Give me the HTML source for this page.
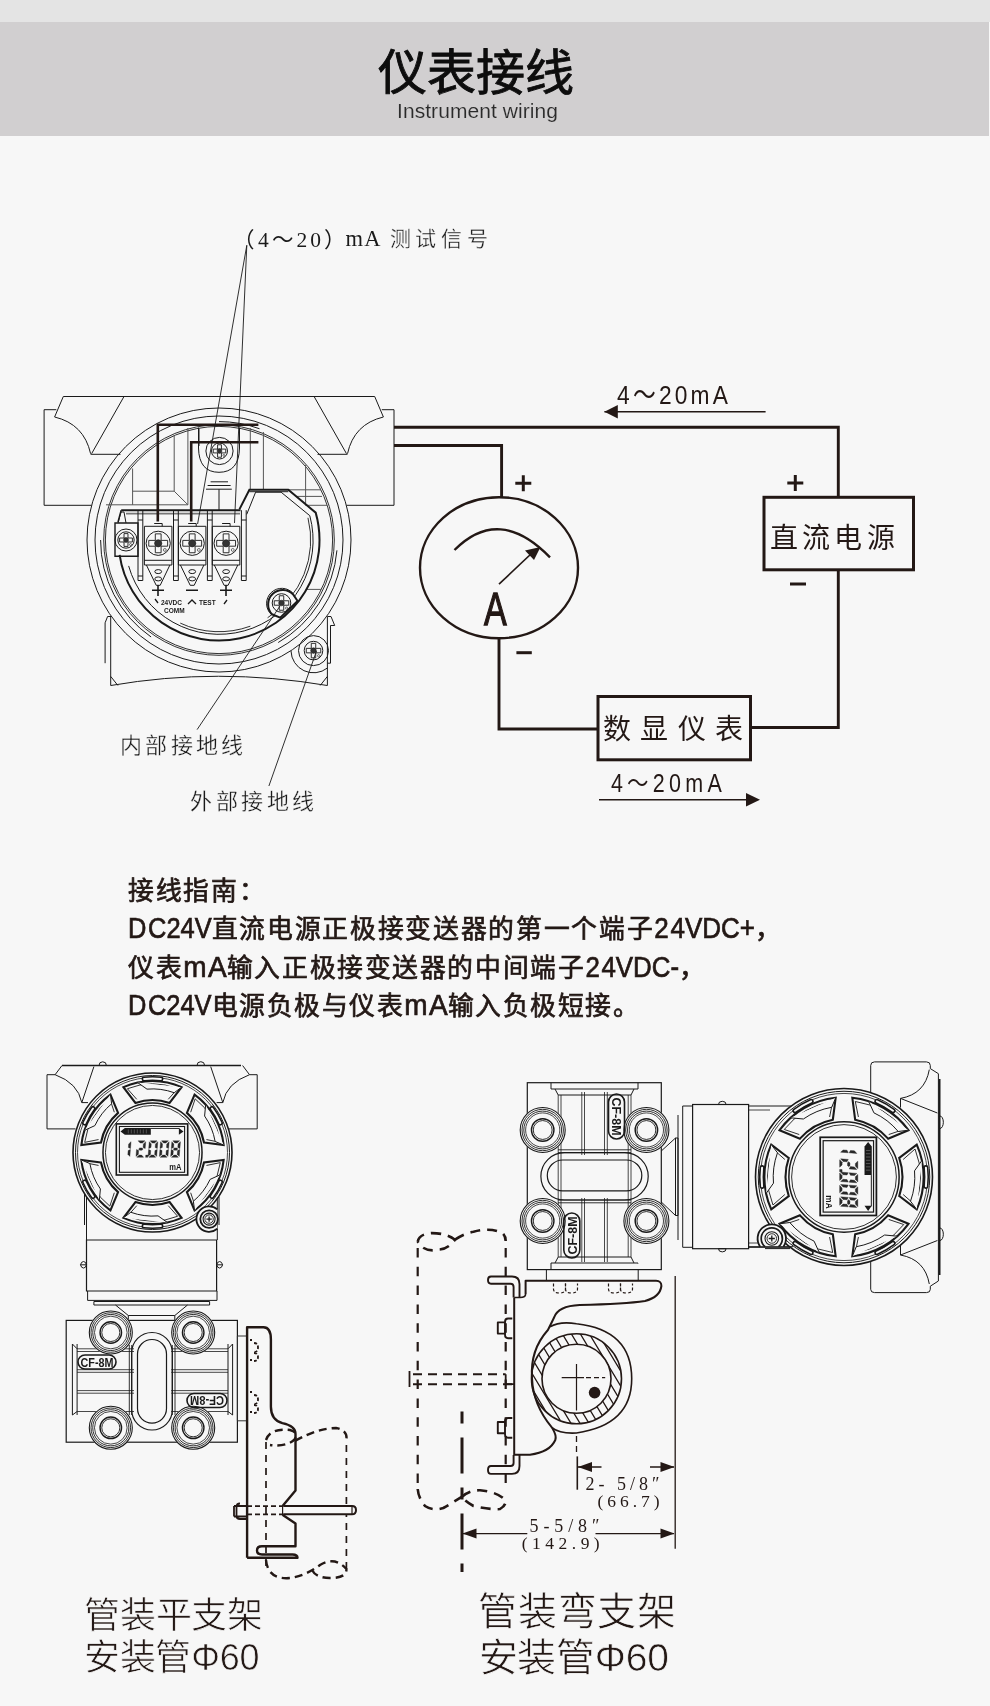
<!DOCTYPE html>
<html lang="zh-CN"><head><meta charset="utf-8">
<style>
html,body{margin:0;padding:0;}
body{width:990px;height:1706px;background:#f7f7f7;position:relative;overflow:hidden;font-family:"Liberation Sans",sans-serif;color:#231815;}
#top{position:absolute;left:0;top:0;width:990px;height:22px;background:#e4e4e4;}
#band{position:absolute;left:0;top:22px;width:989px;height:114px;background:#d1cfd0;}
.t{position:absolute;white-space:nowrap;}
#title{left:378px;top:41px;font-size:49px;color:#0d0d0d;line-height:60px;-webkit-text-stroke:0.8px #0d0d0d;}
#sub{left:398px;top:96px;font-size:21px;color:#3a3a3a;line-height:24px;}
#guide{left:128px;top:870px;font-size:26px;font-weight:bold;color:#222;line-height:38.5px;}
.cap{font-weight:300;color:#231815;}
svg{position:absolute;left:0;top:0;will-change:transform;}
</style></head><body>
<div id="top"></div><div id="band"></div>
<svg width="990" height="1706" viewBox="0 0 990 1706">
<g fill="none" stroke="#1a1a1a" stroke-width="1">
<path d="M63.3 396.5H374.7"/>
<path d="M63.3 396.5L54.6 417Q84 424 90.6 453.7M124 396.5L91.6 453.7M90.6 454.3H120.5"/>
<path d="M56.3 409.7H44.1V505.3H91.5"/>
<path d="M374.7 396.5L383.4 417Q354 424 347.5 453.7M314.1 396.5L346.5 453.7M347.5 454.3H317.5"/>
<path d="M381.8 409.7H394V505.3H346.5"/>
<circle cx="219" cy="540" r="132"/>
<circle cx="219" cy="540" r="124"/>
<circle cx="219" cy="540" r="115.3" stroke-width="0.9"/>
<circle cx="219" cy="540" r="113.6" stroke-width="0.9"/>
<path d="M100.60 540.00A118.4 118.4 0 0 0 151.09 636.99"/>
<path d="M219.00 421.60A118.4 118.4 0 0 1 259.50 428.74"/>
<path d="M336.95 550.32A118.4 118.4 0 0 1 278.20 642.54"/>
<path d="M105.1 663.2V622.8L107.6 616.5H111.4M110.7 616.5V685.5Q218 667 327.4 685.5V616.5M327.4 616.5H331L334.7 625.5H330.5V663.2H327.4"/>
<path d="M110.7 676.4L117.9 685.5M327.4 676.4L320.2 685.5"/>
<g stroke="#555" stroke-width="1">
<path d="M132.6 468.5V504.8M132.6 491.2H174.2V435M174.2 491.2L187.9 504.8M187.9 428V504.8M199.2 428V446M250.3 428V490M263.4 432V490"/>
<path d="M106 504.8H187.9M289 489.8H321M297 496.4H322M305.6 465V505.3H327M306.7 589.4H321"/>
</g>
</g>
<g fill="none" stroke="#1a1a1a" stroke-width="1">
<path d="M198.5 427.6V448Q199 472.3 219 472.3Q239 472.3 239.5 448V427.6"/>
<circle cx="219.5" cy="451" r="13.6"/>
<circle cx="219.5" cy="451" r="8"/><path d="M217.58 444.76H221.42V449.08H225.74V452.92H221.42V457.24H217.58V452.92H213.26V449.08H217.58Z" stroke-width="0.9"/><circle cx="219.5" cy="451" r="2.40" fill="#333" stroke-width="0.6"/><circle cx="223.90" cy="455.40" r="0.96" stroke-width="0.6"/>
<path d="M210.6 481.8H228M207.6 485.5H230.6M206 489.2H231.8M219 489.2V510"/>
</g>
<g fill="none" stroke="#1a1a1a" stroke-width="1">
<path d="M121.2 510.2H240.5" stroke-width="2"/>
<path d="M126 513.6H240" stroke-width="1.6" stroke="#777"/>
<path d="M121.2 510.2L118 522" stroke-width="1.5"/>
<path d="M144.4 526.3H171.9V565H144.4Z"/>
<path d="M144.4 560.3H171.9"/>
<path d="M146.4 565L156.20000000000002 585.3H160.20000000000002L169.9 565"/>
<ellipse cx="158.20000000000002" cy="571.6" rx="3.4" ry="2"/><ellipse cx="158.20000000000002" cy="578.9" rx="3.4" ry="2"/>
<path d="M154.20000000000002 523.5H162.20000000000002V526.3"/>
<circle cx="158.20000000000002" cy="543.3" r="12.1"/><path d="M155.30 533.86H161.10V540.40H167.64V546.20H161.10V552.74H155.30V546.20H148.76V540.40H155.30Z" stroke-width="0.9"/><circle cx="158.20000000000002" cy="543.3" r="3.63" fill="#333" stroke-width="0.6"/><circle cx="164.86" cy="549.95" r="1.45" stroke-width="0.6"/>
<path d="M178.4 526.3H205.9V565H178.4Z"/>
<path d="M178.4 560.3H205.9"/>
<path d="M180.4 565L190.20000000000002 585.3H194.20000000000002L203.9 565"/>
<ellipse cx="192.20000000000002" cy="571.6" rx="3.4" ry="2"/><ellipse cx="192.20000000000002" cy="578.9" rx="3.4" ry="2"/>
<path d="M188.20000000000002 523.5H196.20000000000002V526.3"/>
<circle cx="192.20000000000002" cy="543.3" r="12.1"/><path d="M189.30 533.86H195.10V540.40H201.64V546.20H195.10V552.74H189.30V546.20H182.76V540.40H189.30Z" stroke-width="0.9"/><circle cx="192.20000000000002" cy="543.3" r="3.63" fill="#333" stroke-width="0.6"/><circle cx="198.86" cy="549.95" r="1.45" stroke-width="0.6"/>
<path d="M212.3 526.3H239.8V565H212.3Z"/>
<path d="M212.3 560.3H239.8"/>
<path d="M214.3 565L224.10000000000002 585.3H228.10000000000002L237.8 565"/>
<ellipse cx="226.10000000000002" cy="571.6" rx="3.4" ry="2"/><ellipse cx="226.10000000000002" cy="578.9" rx="3.4" ry="2"/>
<path d="M222.10000000000002 523.5H230.10000000000002V526.3"/>
<circle cx="226.10000000000002" cy="543.3" r="12.1"/><path d="M223.20 533.86H229.00V540.40H235.54V546.20H229.00V552.74H223.20V546.20H216.66V540.40H223.20Z" stroke-width="0.9"/><circle cx="226.10000000000002" cy="543.3" r="3.63" fill="#333" stroke-width="0.6"/><circle cx="232.76" cy="549.95" r="1.45" stroke-width="0.6"/>
<path d="M138 510.2V580.5H142.8V510.2M138 520H142.8M138 576H142.8" stroke-width="1"/>
<path d="M173.5 510.2V580.5H178.3V510.2M173.5 520H178.3M173.5 576H178.3" stroke-width="1"/>
<path d="M207.4 510.2V580.5H212.20000000000002V510.2M207.4 520H212.20000000000002M207.4 576H212.20000000000002" stroke-width="1"/>
<path d="M241.4 510.2V580.5H246.20000000000002V510.2M241.4 520H246.20000000000002M241.4 576H246.20000000000002" stroke-width="1"/>
<path d="M152 590.2H164M158 585V596M186 590.2H198M220 590.2H232M226 585V596" stroke-width="1.6"/>
</g>
<text x="161" y="605" font-size="6.5" font-weight="bold" font-family="Liberation Sans" fill="#1a1a1a">24VDC</text>
<text x="164" y="612.5" font-size="6.5" font-weight="bold" font-family="Liberation Sans" fill="#1a1a1a">COMM</text>
<text x="199" y="605" font-size="6.5" font-weight="bold" font-family="Liberation Sans" fill="#1a1a1a">TEST</text>
<path d="M155 599L158 603M188 604L192 600L196 604M224 604L227 600" fill="none" stroke="#1a1a1a" stroke-width="1.3"/>
<g fill="none" stroke="#1a1a1a" stroke-width="1">
<path d="M115 523H138V556.2H115Z" stroke-width="1.4"/>
<path d="M118 523L121 512H124L126 523" stroke-width="1"/>
<circle cx="126" cy="540" r="11"/>
<circle cx="126" cy="540" r="8.2"/><path d="M124.03 533.60H127.97V538.03H132.40V541.97H127.97V546.40H124.03V541.97H119.60V538.03H124.03Z" stroke-width="0.9"/><circle cx="126" cy="540" r="2.46" fill="#333" stroke-width="0.6"/><circle cx="130.51" cy="544.51" r="0.98" stroke-width="0.6"/>
</g>
<g fill="none" stroke="#1a1a1a">
<path d="M119.60 554.85A100.5 100.5 0 1 0 315.70 512.64L288.3 489.8H249.4L239.4 509.4" stroke-width="2"/>
<path d="M249.4 491.7H288.3" stroke-width="1"/>
<path d="M128.64 565.91A94 94 0 0 0 309.80 515.67L281.1 492.2H255.6L246.7 514.4" stroke-width="1"/>
<path d="M180.25 623.11A91.7 91.7 0 0 0 250.36 626.17" stroke-width="0.9"/>
<path d="M267.59 617.77A91.7 91.7 0 0 0 307.98 517.82" stroke-width="0.9"/>
</g>
<g fill="none" stroke="#1a1a1a" stroke-width="1">
<path d="M272 614.3A12.2 12.2 0 1 1 293.3 594.6L297.6 601L280.2 617.6Z" stroke-width="2" fill="#f7f7f7"/>
<path d="M271.6 614.8A15.2 15.2 0 1 1 293.3 593.6" stroke-width="1"/>
<circle cx="281.5" cy="603" r="9.3"/><path d="M279.27 595.75H283.73V600.77H288.75V605.23H283.73V610.25H279.27V605.23H274.25V600.77H279.27Z" stroke-width="0.9"/><circle cx="281.5" cy="603" r="2.79" fill="#333" stroke-width="0.6"/><circle cx="286.62" cy="608.12" r="1.12" stroke-width="0.6"/>
</g>
<g fill="none" stroke="#1a1a1a" stroke-width="1">
<circle cx="313.5" cy="650.6" r="15"/>
<path d="M291 651A22.5 22.5 0 0 0 327.4 668"/>
<circle cx="313.5" cy="650.6" r="9.3"/><path d="M311.27 643.35H315.73V648.37H320.75V652.83H315.73V657.85H311.27V652.83H306.25V648.37H311.27Z" stroke-width="0.9"/><circle cx="313.5" cy="650.6" r="2.79" fill="#333" stroke-width="0.6"/><circle cx="318.62" cy="655.72" r="1.12" stroke-width="0.6"/>
</g>
<g fill="none" stroke="#231815" stroke-width="2.6">
<path d="M157.8 521.6V424.8H258.4"/>
<path d="M191.2 521.6V442.3H258.4"/>
</g>
<g fill="none" stroke="#1a1a1a" stroke-width="0.9">
<path d="M246.8 245.3L197.6 524M246.8 245.3L234.5 523"/>
<path d="M197.1 729.6L280 606M268.9 786L316.5 651"/>
</g>
<g fill="none" stroke="#231815" stroke-width="2.9">
<path d="M394 427.3H838.3V497.3"/>
<path d="M394 445.5H501.6V497.3"/>
<ellipse cx="499" cy="567.7" rx="79" ry="70.5" stroke-width="2.4"/>
<path d="M499 638V729H598"/>
<path d="M751 727.5H838.3V570"/>
<rect x="764" y="497.3" width="149.5" height="72.5" stroke-width="3"/>
<rect x="598" y="696.5" width="152.5" height="63.3" stroke-width="3"/>
<path d="M454.5 550Q499 505 550 557.3" stroke-width="2.4"/>
<path d="M499 584.2L532 553" stroke-width="1.6"/>
<path d="M604.4 411.8H765.6M599 799.8H750" stroke-width="1.6"/>
</g>
<g fill="#231815" stroke="none">
<path d="M540.5 547L525 550.5L534 560Z"/>
<path d="M604.4 411.8L617.8 405.1V418.5Z"/>
<path d="M760 799.8L746 793V806.6Z"/>
<path d="M515.3 481.8H531.3V484.8H515.3ZM521.8 475.3H524.8V491.3H521.8Z"/>
<path d="M787.3 481.5H803.3V484.5H787.3ZM793.8 475H796.8V491H793.8Z"/>
<path d="M516.4 651.2H531.8V654.2H516.4Z"/>
<path d="M790 582.5H806V585.5H790Z"/>
</g>
<text id="title" x="377.5" y="89.5" font-family="Liberation Sans" font-size="49.5" textLength="196.5" lengthAdjust="spacing" fill="#0d0d0d" stroke="#0d0d0d" stroke-width="0.9">仪表接线</text>
<text id="sub" x="397" y="118" font-family="Liberation Sans" font-size="20.3" textLength="161" lengthAdjust="spacing" fill="#2a2a2a" stroke="#d1cfd0" stroke-width="0.15">Instrument wiring</text>
<text id="sig" x="233" y="246.5" font-family="Liberation Serif" font-size="21.5" textLength="113" lengthAdjust="spacing" fill="#1a1a1a">（4～20）</text>
<text id="sig3" x="345.5" y="246" font-family="Liberation Serif" font-size="22.5" textLength="35" lengthAdjust="spacing" fill="#1a1a1a">mA</text>
<text id="sig2" x="389.5" y="246" font-family="Liberation Serif" font-size="21" textLength="98.5" lengthAdjust="spacing" fill="#1a1a1a" stroke="#f7f7f7" stroke-width="0.3">测试信号</text>
<text id="ma1" x="617" y="404" font-family="Liberation Sans" font-size="26.5" textLength="129" lengthAdjust="spacing" fill="#231815" transform="translate(617 0) scale(0.86 1) translate(-617 0)">4～20mA</text>
<text id="dcps" x="769.5" y="547.5" font-family="Liberation Sans" font-size="28" textLength="125" lengthAdjust="spacing" fill="#231815">直流电源</text>
<text id="amm" x="484" y="625" font-family="Liberation Sans" font-size="46" fill="#231815" stroke="#231815" stroke-width="1.3" transform="translate(484 625) scale(0.74 1) translate(-484 -625)">A</text>
<text id="disp" x="603" y="738.5" font-family="Liberation Sans" font-size="28" textLength="140" lengthAdjust="spacing" fill="#231815">数显仪表</text>
<text id="ma2" x="611" y="792.5" font-family="Liberation Sans" font-size="25" textLength="129" lengthAdjust="spacing" fill="#231815" transform="translate(611 0) scale(0.86 1) translate(-611 0)">4～20mA</text>
<text id="inner" x="120.2" y="752.5" font-family="Liberation Serif" font-size="22" textLength="123" lengthAdjust="spacing" fill="#1a1a1a" stroke="#f7f7f7" stroke-width="0.3">内部接地线</text>
<text id="outer" x="190" y="808.7" font-family="Liberation Serif" font-size="22" textLength="124" lengthAdjust="spacing" fill="#1a1a1a" stroke="#f7f7f7" stroke-width="0.3">外部接地线</text>
<text id="g1" x="128" y="899.5" font-family="Liberation Sans" font-size="25.8" textLength="136.5" lengthAdjust="spacing" fill="#231815" stroke="#231815" stroke-width="0.7">接线指南：</text>
<text id="g2" x="128" y="938" font-family="Liberation Sans" font-size="25.8" textLength="653" lengthAdjust="spacing" fill="#231815" stroke="#231815" stroke-width="0.7"><tspan font-size="29" textLength="82" lengthAdjust="spacingAndGlyphs">DC24V</tspan>直流电源正极接变送器的第一个端子<tspan font-size="29" textLength="99" lengthAdjust="spacingAndGlyphs">24VDC+</tspan>，</text>
<text id="g3" x="128" y="976.5" font-family="Liberation Sans" font-size="25.8" textLength="577" lengthAdjust="spacing" fill="#231815" stroke="#231815" stroke-width="0.7">仪表<tspan font-size="29" textLength="42" lengthAdjust="spacingAndGlyphs">mA</tspan>输入正极接变送器的中间端子<tspan font-size="29" textLength="92" lengthAdjust="spacingAndGlyphs">24VDC-</tspan>，</text>
<text id="g4" x="128" y="1015" font-family="Liberation Sans" font-size="25.8" textLength="510.8" lengthAdjust="spacing" fill="#231815" stroke="#231815" stroke-width="0.7"><tspan font-size="29" textLength="82" lengthAdjust="spacingAndGlyphs">DC24V</tspan>电源负极与仪表<tspan font-size="29" textLength="42" lengthAdjust="spacingAndGlyphs">mA</tspan>输入负极短接。</text>
<text id="c1" x="84" y="1627.5" font-family="Liberation Sans" font-size="36" textLength="179.3" lengthAdjust="spacing" fill="#231815" stroke="#f7f7f7" stroke-width="0.7">管装平支架</text>
<text id="c2" x="84" y="1670" font-family="Liberation Sans" font-size="36" textLength="175.5" lengthAdjust="spacing" fill="#231815" stroke="#f7f7f7" stroke-width="0.7">安装管Φ60</text>
<text id="c3" x="478.3" y="1625" font-family="Liberation Sans" font-size="39" textLength="197.6" lengthAdjust="spacing" fill="#231815" stroke="#f7f7f7" stroke-width="0.7">管装弯支架</text>
<text id="c4" x="478.5" y="1671" font-family="Liberation Sans" font-size="39" textLength="190.4" lengthAdjust="spacing" fill="#231815" stroke="#f7f7f7" stroke-width="0.7">安装管Φ60</text>
<g fill="none" stroke="#1a1a1a" stroke-width="1">
<path d="M62 1065.5H241" stroke-width="1.6"/>
<path d="M99 1065.5A3.7 3.7 0 0 1 106.4 1065.5M197 1065.5A3.7 3.7 0 0 1 204.6 1065.5"/>
<path d="M62 1065.5L55.1 1074.7H47V1128.9H75.5M55.1 1074.7Q78 1083 81.8 1102.6H88M93.9 1066.6L81.8 1102.6"/>
<path d="M242.6 1065.5L249.5 1074.7H257.2V1128.9H229M249.5 1074.7Q226.6 1083 222.8 1102.6H216.6M210.7 1066.6L222.8 1102.6"/>
<path d="M84.5 1192V1225M86.5 1195V1240M217.3 1196V1240M219 1197V1225"/>
</g>
<g fill="#f7f7f7" stroke="#1a1a1a" stroke-width="1">
<circle cx="152.5" cy="1152.5" r="79.5" stroke-width="1.6"/><circle cx="152.5" cy="1152.5" r="77.00" stroke-width="1"/><circle cx="152.5" cy="1152.5" r="75.00" stroke-width="0.8"/><circle cx="152.5" cy="1152.5" r="49.53" stroke-width="1.5"/><circle cx="152.5" cy="1152.5" r="47.06" stroke-width="0.9"/><path d="M169.58 1102.89L181.60 1087.14A71.55 71.55 0 0 0 123.40 1087.14L135.42 1102.89A52.470000000000006 52.470000000000006 0 0 1 169.58 1102.89Z" stroke-width="2.1"/><path d="M168.25 1099.31L177.62 1088.72A68.55 68.55 0 0 0 127.38 1088.72L136.75 1099.31" fill="none" stroke-width="0.9"/><path d="M181.60 1087.14L174.25 1092.74A63.6 63.6 0 0 0 146.96 1089.14L137.62 1082.51" stroke-width="1"/><path d="M160.88 1078.98A74.00 74.00 0 0 0 144.12 1078.98" stroke-width="5.2" stroke-linecap="round"/><path d="M160.88 1078.98A74.00 74.00 0 0 0 144.12 1078.98" stroke="#f7f7f7" stroke-width="2" stroke-linecap="round"/><path d="M118.08 1112.90L110.44 1094.61A71.55 71.55 0 0 0 81.34 1145.02L100.99 1142.49A52.470000000000006 52.470000000000006 0 0 1 118.08 1112.90Z" stroke-width="2.1"/><path d="M114.32 1112.26L109.83 1098.85A68.55 68.55 0 0 0 84.70 1142.37L98.56 1139.55" fill="none" stroke-width="0.9"/><path d="M110.44 1094.61L111.62 1103.78A63.6 63.6 0 0 0 94.86 1125.62L84.45 1130.39" stroke-width="1"/><path d="M93.01 1108.48A74.00 74.00 0 0 0 84.64 1122.99" stroke-width="5.2" stroke-linecap="round"/><path d="M93.01 1108.48A74.00 74.00 0 0 0 84.64 1122.99" stroke="#f7f7f7" stroke-width="2" stroke-linecap="round"/><path d="M100.99 1162.51L81.34 1159.98A71.55 71.55 0 0 0 110.44 1210.39L118.08 1192.10A52.470000000000006 52.470000000000006 0 0 1 100.99 1162.51Z" stroke-width="2.1"/><path d="M98.56 1165.45L84.70 1162.63A68.55 68.55 0 0 0 109.83 1206.15L114.32 1192.74" fill="none" stroke-width="0.9"/><path d="M81.34 1159.98L89.87 1163.54A63.6 63.6 0 0 0 100.40 1188.98L99.33 1200.38" stroke-width="1"/><path d="M84.64 1182.01A74.00 74.00 0 0 0 93.01 1196.52" stroke-width="5.2" stroke-linecap="round"/><path d="M84.64 1182.01A74.00 74.00 0 0 0 93.01 1196.52" stroke="#f7f7f7" stroke-width="2" stroke-linecap="round"/><path d="M135.42 1202.11L123.40 1217.86A71.55 71.55 0 0 0 181.60 1217.86L169.58 1202.11A52.470000000000006 52.470000000000006 0 0 1 135.42 1202.11Z" stroke-width="2.1"/><path d="M136.75 1205.69L127.38 1216.28A68.55 68.55 0 0 0 177.62 1216.28L168.25 1205.69" fill="none" stroke-width="0.9"/><path d="M123.40 1217.86L130.75 1212.26A63.6 63.6 0 0 0 158.04 1215.86L167.38 1222.49" stroke-width="1"/><path d="M144.12 1226.02A74.00 74.00 0 0 0 160.88 1226.02" stroke-width="5.2" stroke-linecap="round"/><path d="M144.12 1226.02A74.00 74.00 0 0 0 160.88 1226.02" stroke="#f7f7f7" stroke-width="2" stroke-linecap="round"/><path d="M186.92 1192.10L194.56 1210.39A71.55 71.55 0 0 0 223.66 1159.98L204.01 1162.51A52.470000000000006 52.470000000000006 0 0 1 186.92 1192.10Z" stroke-width="2.1"/><path d="M190.68 1192.74L195.17 1206.15A68.55 68.55 0 0 0 220.30 1162.63L206.44 1165.45" fill="none" stroke-width="0.9"/><path d="M194.56 1210.39L193.38 1201.22A63.6 63.6 0 0 0 210.14 1179.38L220.55 1174.61" stroke-width="1"/><path d="M211.99 1196.52A74.00 74.00 0 0 0 220.36 1182.01" stroke-width="5.2" stroke-linecap="round"/><path d="M211.99 1196.52A74.00 74.00 0 0 0 220.36 1182.01" stroke="#f7f7f7" stroke-width="2" stroke-linecap="round"/><path d="M204.01 1142.49L223.66 1145.02A71.55 71.55 0 0 0 194.56 1094.61L186.92 1112.90A52.470000000000006 52.470000000000006 0 0 1 204.01 1142.49Z" stroke-width="2.1"/><path d="M206.44 1139.55L220.30 1142.37A68.55 68.55 0 0 0 195.17 1098.85L190.68 1112.26" fill="none" stroke-width="0.9"/><path d="M223.66 1145.02L215.13 1141.46A63.6 63.6 0 0 0 204.60 1116.02L205.67 1104.62" stroke-width="1"/><path d="M220.36 1122.99A74.00 74.00 0 0 0 211.99 1108.48" stroke-width="5.2" stroke-linecap="round"/><path d="M220.36 1122.99A74.00 74.00 0 0 0 211.99 1108.48" stroke="#f7f7f7" stroke-width="2" stroke-linecap="round"/>
</g>
<g transform="translate(116.3 1123.9)"><rect x="0" y="0" width="71.4" height="51.1" fill="#f7f7f7" stroke="#1a1a1a" stroke-width="1.6"/><rect x="3.1" y="2.6" width="65.2" height="45.8" fill="none" stroke="#1a1a1a" stroke-width="1.1"/><path d="M4.2 7.5L8.5 4.2H34.5V10.8H8.5Z" fill="#1a1a1a"/><path d="M34.5 4.6H63" stroke="#1a1a1a" stroke-width="0.9" fill="none"/><path d="M62.6 4.2L67.2 7.5L62.6 10.8Z" fill="#1a1a1a"/><path d="M12 5.5V9.5M15 5.5V9.5M18 5.5V9.5M21 5.5V9.5M24 5.5V9.5M27 5.5V9.5M30 5.5V9.5" stroke="#777" stroke-width="0.6"/><g fill="#2a2a2a" stroke="#1a1a1a" stroke-width="0.35" stroke-linejoin="miter"><path d="M14.75 17.80L12.37 20.00L12.08 23.60L14.20 24.70Z"/><path d="M14.12 25.60L11.84 26.70L11.55 30.30L13.57 32.50Z"/><path d="M21.82 16.90L28.62 16.90L26.24 19.10L23.84 19.10Z"/><path d="M29.45 17.80L27.07 20.00L26.78 23.60L28.90 24.70Z"/><path d="M22.26 25.15L23.45 24.05L25.85 24.05L26.86 25.15L25.67 26.25L23.27 26.25Z"/><path d="M20.22 25.60L22.34 26.70L22.05 30.30L19.67 32.50Z"/><path d="M22.88 31.20L25.28 31.20L27.30 33.40L20.50 33.40Z"/><path d="M29.48 31.20L31.68 31.20L31.50 33.40L29.30 33.40Z"/><path d="M33.92 16.90L40.72 16.90L38.34 19.10L35.94 19.10Z"/><path d="M41.55 17.80L39.17 20.00L38.88 23.60L41.00 24.70Z"/><path d="M40.92 25.60L38.64 26.70L38.35 30.30L40.37 32.50Z"/><path d="M34.98 31.20L37.38 31.20L39.40 33.40L32.60 33.40Z"/><path d="M32.32 25.60L34.44 26.70L34.15 30.30L31.77 32.50Z"/><path d="M32.95 17.80L34.97 20.00L34.68 23.60L32.40 24.70Z"/><path d="M45.22 16.90L52.02 16.90L49.64 19.10L47.24 19.10Z"/><path d="M52.85 17.80L50.47 20.00L50.18 23.60L52.30 24.70Z"/><path d="M52.22 25.60L49.94 26.70L49.65 30.30L51.67 32.50Z"/><path d="M46.28 31.20L48.68 31.20L50.70 33.40L43.90 33.40Z"/><path d="M43.62 25.60L45.74 26.70L45.45 30.30L43.07 32.50Z"/><path d="M44.25 17.80L46.27 20.00L45.98 23.60L43.70 24.70Z"/><path d="M56.52 16.90L63.32 16.90L60.94 19.10L58.54 19.10Z"/><path d="M64.15 17.80L61.77 20.00L61.48 23.60L63.60 24.70Z"/><path d="M63.52 25.60L61.24 26.70L60.95 30.30L62.97 32.50Z"/><path d="M57.58 31.20L59.98 31.20L62.00 33.40L55.20 33.40Z"/><path d="M54.92 25.60L57.04 26.70L56.75 30.30L54.37 32.50Z"/><path d="M55.55 17.80L57.57 20.00L57.28 23.60L55.00 24.70Z"/><path d="M56.96 25.15L58.15 24.05L60.55 24.05L61.56 25.15L60.37 26.25L57.97 26.25Z"/></g><text x="53" y="46.1" font-family="Liberation Sans" font-size="9" font-weight="bold" fill="#1a1a1a" textLength="12.2" lengthAdjust="spacingAndGlyphs">mA</text></g>
<g fill="none" stroke="#1a1a1a" stroke-width="1">
<path d="M86.5 1240H216.6V1291H86.5Z" stroke-width="1.2"/>
<path d="M87.6 1291V1300.4H217V1291"/>
<path d="M93.9 1301.5H209.6V1305H93.9Z"/>
<path d="M115.5 1305L128.3 1315.5V1320.4M187.5 1305L174.8 1315.5V1320.4M128.3 1315.5H174.8"/>
<path d="M80.5 1264.8A3.2 5 0 0 1 86.5 1264.8M80.5 1264.8A3.2 5 0 0 0 86.5 1264.8M80.5 1264.8H86.5"/>
<path d="M216.6 1264.8A3.2 5 0 0 1 222.6 1264.8M216.6 1264.8A3.2 5 0 0 0 222.6 1264.8M216.6 1264.8H222.6"/>
<path d="M217.3 1209.4A12.7 12.7 0 1 0 217.3 1228.8" stroke-width="1.8" fill="#f7f7f7"/>
<circle cx="209.1" cy="1219.1" r="8.8" stroke-width="1.8"/>
<circle cx="209.1" cy="1219.1" r="6" stroke-width="1.1"/><circle cx="209.1" cy="1219.1" r="4.20" stroke-width="0.9"/><path d="M206.40 1219.1H211.80M209.1 1216.40V1221.80" stroke-width="1.3"/>
</g>
<g fill="none" stroke="#1a1a1a" stroke-width="1">
<rect x="66.2" y="1320.4" width="171.2" height="121.8" stroke-width="1.2"/>
<path d="M72.4 1344V1415M77.1 1344V1415M228 1344V1415M232.6 1344V1415"/>
<path d="M72.4 1344L77.1 1348.8M72.4 1415L77.1 1411.5M232.6 1344L228 1348.8M232.6 1415L228 1411.5"/>
<path d="M77.1 1348.8H134M171.2 1348.8H228" stroke-width="0.8"/>
<path d="M77.1 1351.5H134M171.2 1351.5H228" stroke-width="0.8"/>
<path d="M77.1 1369.7H134M171.2 1369.7H228" stroke-width="0.8"/>
<path d="M77.1 1372.3H134M171.2 1372.3H228" stroke-width="0.8"/>
<path d="M77.1 1390.6H134M171.2 1390.6H228" stroke-width="0.8"/>
<path d="M77.1 1393.2H134M171.2 1393.2H228" stroke-width="0.8"/>
<path d="M77.1 1411.5H134M171.2 1411.5H228" stroke-width="0.8"/>
<path d="M129.3 1345V1415M131.7 1345V1415M172.3 1345V1415M175 1345V1415" stroke-width="0.9"/>
<rect x="131.7" y="1332.5" width="40.6" height="97.5" rx="20.3" stroke-width="1.2"/>
<rect x="137.5" y="1339.5" width="29" height="83.6" rx="14.5" stroke-width="1.2"/>
<circle cx="110.8" cy="1332.5" r="22" fill="#f7f7f7" stroke="none"/>
<circle cx="110.8" cy="1332.5" r="21.50" stroke-width="1.1"/><circle cx="110.8" cy="1332.5" r="19.78" stroke-width="0.9"/><circle cx="110.8" cy="1332.5" r="18.06" stroke-width="0.9"/><circle cx="110.8" cy="1332.5" r="16.34" stroke-width="0.8"/><circle cx="110.8" cy="1332.5" r="10.75" stroke-width="1.4"/><circle cx="110.8" cy="1332.5" r="9.03" stroke-width="0.9"/>
<circle cx="193.2" cy="1332.5" r="22" fill="#f7f7f7" stroke="none"/>
<circle cx="193.2" cy="1332.5" r="21.50" stroke-width="1.1"/><circle cx="193.2" cy="1332.5" r="19.78" stroke-width="0.9"/><circle cx="193.2" cy="1332.5" r="18.06" stroke-width="0.9"/><circle cx="193.2" cy="1332.5" r="16.34" stroke-width="0.8"/><circle cx="193.2" cy="1332.5" r="10.75" stroke-width="1.4"/><circle cx="193.2" cy="1332.5" r="9.03" stroke-width="0.9"/>
<circle cx="110.8" cy="1427.8" r="22" fill="#f7f7f7" stroke="none"/>
<circle cx="110.8" cy="1427.8" r="21.50" stroke-width="1.1"/><circle cx="110.8" cy="1427.8" r="19.78" stroke-width="0.9"/><circle cx="110.8" cy="1427.8" r="18.06" stroke-width="0.9"/><circle cx="110.8" cy="1427.8" r="16.34" stroke-width="0.8"/><circle cx="110.8" cy="1427.8" r="10.75" stroke-width="1.4"/><circle cx="110.8" cy="1427.8" r="9.03" stroke-width="0.9"/>
<circle cx="193.2" cy="1427.8" r="22" fill="#f7f7f7" stroke="none"/>
<circle cx="193.2" cy="1427.8" r="21.50" stroke-width="1.1"/><circle cx="193.2" cy="1427.8" r="19.78" stroke-width="0.9"/><circle cx="193.2" cy="1427.8" r="18.06" stroke-width="0.9"/><circle cx="193.2" cy="1427.8" r="16.34" stroke-width="0.8"/><circle cx="193.2" cy="1427.8" r="10.75" stroke-width="1.4"/><circle cx="193.2" cy="1427.8" r="9.03" stroke-width="0.9"/>
</g>
<rect x="78" y="1355" width="38" height="14" rx="7" fill="none" stroke="#1a1a1a" stroke-width="1.6"/>
<text x="80.5" y="1366.5" font-family="Liberation Sans" font-size="12" font-weight="bold" fill="#1a1a1a" textLength="33" lengthAdjust="spacingAndGlyphs">CF-8M</text>
<rect x="187" y="1393.5" width="40" height="14" rx="7" fill="none" stroke="#1a1a1a" stroke-width="1.6"/>
<text x="0" y="0" font-family="Liberation Sans" font-size="12" font-weight="bold" fill="#1a1a1a" textLength="34" lengthAdjust="spacingAndGlyphs" transform="translate(224 1396) rotate(180)">CF-8M</text>
<g fill="none" stroke="#231815" stroke-width="1.7" stroke-dasharray="7 6">
<path d="M266 1566V1442"/>
<path d="M346.4 1569V1442"/>
</g>
<g fill="none" stroke="#231815" stroke-width="2.4" stroke-dasharray="8 5">
<path d="M266 1440Q270 1428 290 1430Q300 1433 294 1440Q286 1447 270 1445"/>
<path d="M295 1441Q318 1428 336 1428Q348 1430 346.4 1440"/>
<path d="M266 1560Q268 1580 290 1578Q305 1576 320 1565Q335 1556 346.4 1569Q347 1578 330 1578Q316 1578 312 1570"/>
</g>
<g fill="none" stroke="#231815" stroke-width="2.4" stroke-linejoin="round">
<path d="M237.4 1336H247.1M237.4 1420.8H247.1" stroke="#333" stroke-width="1"/>
<path d="M237.4 1336V1420.8" stroke="#333" stroke-width="1"/>
<path d="M247.1 1557.8V1327.2H263.5Q270.9 1327.2 270.9 1339.5V1406.8Q270.9 1420 282.4 1423.2Q295.5 1426 295.5 1434V1490.5L283.2 1505.3V1515.2L295.5 1523.4V1546.3H262Q257 1546.3 257 1550.5Q257 1554.5 262 1554.5H292.5Q297.5 1554.5 297.5 1557.8H247.1"/>
<path d="M283.2 1506.1H352Q356 1506.1 356 1510.2Q356 1514.3 352 1514.3H283.2" stroke-width="2" fill="#f7f7f7"/>
<path d="M352 1506.1V1514.3" stroke-width="1.2"/>
<path d="M234 1506H247M234 1516.5H247M234 1506V1516.5M240 1503.5Q236.5 1503.5 236.5 1507V1516Q236.5 1519 240 1519H247" stroke-width="1.8"/>
<path d="M247 1506.1H283M247 1514.3H283" stroke-dasharray="5 3" stroke-width="1.8"/>
<path d="M250 1340h2M250 1360h2M254 1343q4 0 4 4.5q0 4.5-4 4.5M254 1353q4 0 4 4q0 4-4 4" stroke-width="1.8" stroke-dasharray="3 2"/>
<path d="M250 1392h2M250 1412h2M254 1395q4 0 4 4.5q0 4.5-4 4.5M254 1405q4 0 4 4q0 4-4 4" stroke-width="1.8" stroke-dasharray="3 2"/>
</g>
<g fill="none" stroke="#1a1a1a" stroke-width="1">
<rect x="527.3" y="1082.7" width="134" height="186.9" stroke-width="1.2"/>
<path d="M551 1082.7V1089H638V1082.7M551 1269.6V1263H638V1263.5"/>
<path d="M555 1089L558.2 1095H631L634 1089M555 1263L558.2 1257H631L634 1263"/>
<path d="M558.2 1095V1257" stroke-width="0.8"/>
<path d="M561 1095V1257" stroke-width="0.8"/>
<path d="M628.2 1095V1257" stroke-width="0.8"/>
<path d="M631 1095V1257" stroke-width="0.8"/>
<path d="M581.8 1092V1155M581.8 1198V1262" stroke-width="0.8"/>
<path d="M584.5 1092V1155M584.5 1198V1262" stroke-width="0.8"/>
<path d="M604.5 1092V1155M604.5 1198V1262" stroke-width="0.8"/>
<path d="M607.3 1092V1155M607.3 1198V1262" stroke-width="0.8"/>
<path d="M558 1149.8H631M558 1152.7H631M558 1200H631M558 1202.8H631" stroke-width="0.9"/>
<rect x="540.9" y="1152.7" width="107.3" height="47.3" rx="23.6" stroke-width="1.2"/>
<rect x="547.3" y="1160" width="94.5" height="30.9" rx="15.4" stroke-width="1.2"/>
<circle cx="542.7" cy="1130" r="23" fill="#f7f7f7" stroke="none"/>
<circle cx="542.7" cy="1130" r="22.50" stroke-width="1.1"/><circle cx="542.7" cy="1130" r="20.70" stroke-width="0.9"/><circle cx="542.7" cy="1130" r="18.90" stroke-width="0.9"/><circle cx="542.7" cy="1130" r="17.10" stroke-width="0.8"/><circle cx="542.7" cy="1130" r="11.25" stroke-width="1.4"/><circle cx="542.7" cy="1130" r="9.45" stroke-width="0.9"/>
<circle cx="646.4" cy="1130" r="23" fill="#f7f7f7" stroke="none"/>
<circle cx="646.4" cy="1130" r="22.50" stroke-width="1.1"/><circle cx="646.4" cy="1130" r="20.70" stroke-width="0.9"/><circle cx="646.4" cy="1130" r="18.90" stroke-width="0.9"/><circle cx="646.4" cy="1130" r="17.10" stroke-width="0.8"/><circle cx="646.4" cy="1130" r="11.25" stroke-width="1.4"/><circle cx="646.4" cy="1130" r="9.45" stroke-width="0.9"/>
<circle cx="542.7" cy="1221" r="23" fill="#f7f7f7" stroke="none"/>
<circle cx="542.7" cy="1221" r="22.50" stroke-width="1.1"/><circle cx="542.7" cy="1221" r="20.70" stroke-width="0.9"/><circle cx="542.7" cy="1221" r="18.90" stroke-width="0.9"/><circle cx="542.7" cy="1221" r="17.10" stroke-width="0.8"/><circle cx="542.7" cy="1221" r="11.25" stroke-width="1.4"/><circle cx="542.7" cy="1221" r="9.45" stroke-width="0.9"/>
<circle cx="646.4" cy="1221" r="23" fill="#f7f7f7" stroke="none"/>
<circle cx="646.4" cy="1221" r="22.50" stroke-width="1.1"/><circle cx="646.4" cy="1221" r="20.70" stroke-width="0.9"/><circle cx="646.4" cy="1221" r="18.90" stroke-width="0.9"/><circle cx="646.4" cy="1221" r="17.10" stroke-width="0.8"/><circle cx="646.4" cy="1221" r="11.25" stroke-width="1.4"/><circle cx="646.4" cy="1221" r="9.45" stroke-width="0.9"/>
<path d="M546.4 1269.6V1280M638.2 1269.6V1280"/>
<path d="M661.3 1151L675.5 1138V1215.5L661.3 1202"/>
<path d="M675.5 1138H678V1215.5H675.5M678 1115V1240M682.7 1106V1247.3"/>
<rect x="692.6" y="1104.5" width="56" height="144.2" stroke-width="1.2"/>
<path d="M682.7 1106H692.6M682.7 1247.3H692.6"/>
<path d="M748.6 1106H800M748.6 1247.3H800"/>
<path d="M748.6 1110H770M748.6 1243H770" stroke-width="0.8"/>
<path d="M718.5 1104.5A3.8 3.2 0 0 1 726.1 1104.5M718.5 1104.5H726.1M718.5 1248.7A3.8 3.2 0 0 0 726.1 1248.7M718.5 1248.7H726.1"/>
<path d="M870.7 1093.4V1065.5Q870.7 1061.9 874.5 1061.9H926.5Q930.3 1061.9 930.3 1065.5V1068.6L938.4 1073.7V1281L930.3 1286.2V1289.3Q930.3 1292.6 926.5 1292.6H874.5Q870.7 1292.6 870.7 1289.3V1260"/>
<path d="M929.3 1069.6Q925 1094 900.5 1098.4V1107.5M900.5 1098.4L937.4 1113M929.3 1284Q925 1259.5 900.5 1255V1246M900.5 1255L937.4 1240.5"/>
<path d="M939.5 1079V1275" stroke-width="2"/>
<path d="M940 1116A3.2 6 0 0 1 940 1128.5M940 1228A3.2 6 0 0 1 940 1240.5"/>
</g>
<g fill="#f7f7f7" stroke="#1a1a1a" stroke-width="1">
<circle cx="844" cy="1177" r="88.5" stroke-width="1.6"/><circle cx="844" cy="1177" r="85.75" stroke-width="1"/><circle cx="844" cy="1177" r="83.55" stroke-width="0.8"/><circle cx="844" cy="1177" r="55.14" stroke-width="1.5"/><circle cx="844" cy="1177" r="52.39" stroke-width="0.9"/><path d="M788.77 1157.98L771.24 1144.60A79.65 79.65 0 0 0 771.24 1209.40L788.77 1196.02A58.410000000000004 58.410000000000004 0 0 1 788.77 1157.98Z" stroke-width="2.1"/><path d="M784.83 1159.47L772.96 1149.02A76.35 76.35 0 0 0 772.96 1204.98L784.83 1194.53" fill="none" stroke-width="0.9"/><path d="M771.24 1144.60L777.47 1152.78A70.8 70.8 0 0 0 773.47 1183.17L766.09 1193.56" stroke-width="1"/><path d="M762.08 1167.67A82.45 82.45 0 0 0 762.08 1186.33" stroke-width="5.2" stroke-linecap="round"/><path d="M762.08 1167.67A82.45 82.45 0 0 0 762.08 1186.33" stroke="#f7f7f7" stroke-width="2" stroke-linecap="round"/><path d="M799.92 1215.32L779.56 1223.82A79.65 79.65 0 0 0 835.67 1256.21L832.85 1234.34A58.410000000000004 58.410000000000004 0 0 1 799.92 1215.32Z" stroke-width="2.1"/><path d="M799.24 1219.48L784.25 1224.53A76.35 76.35 0 0 0 832.71 1252.51L829.59 1237.00" fill="none" stroke-width="0.9"/><path d="M779.56 1223.82L789.76 1222.51A70.8 70.8 0 0 0 814.08 1241.17L819.39 1252.75" stroke-width="1"/><path d="M794.96 1243.28A82.45 82.45 0 0 0 811.12 1252.61" stroke-width="5.2" stroke-linecap="round"/><path d="M794.96 1243.28A82.45 82.45 0 0 0 811.12 1252.61" stroke="#f7f7f7" stroke-width="2" stroke-linecap="round"/><path d="M855.15 1234.34L852.33 1256.21A79.65 79.65 0 0 0 908.44 1223.82L888.08 1215.32A58.410000000000004 58.410000000000004 0 0 1 855.15 1234.34Z" stroke-width="2.1"/><path d="M858.41 1237.00L855.29 1252.51A76.35 76.35 0 0 0 903.75 1224.53L888.76 1219.48" fill="none" stroke-width="0.9"/><path d="M852.33 1256.21L856.29 1246.72A70.8 70.8 0 0 0 884.61 1235.00L897.30 1236.19" stroke-width="1"/><path d="M876.88 1252.61A82.45 82.45 0 0 0 893.04 1243.28" stroke-width="5.2" stroke-linecap="round"/><path d="M876.88 1252.61A82.45 82.45 0 0 0 893.04 1243.28" stroke="#f7f7f7" stroke-width="2" stroke-linecap="round"/><path d="M899.23 1196.02L916.76 1209.40A79.65 79.65 0 0 0 916.76 1144.60L899.23 1157.98A58.410000000000004 58.410000000000004 0 0 1 899.23 1196.02Z" stroke-width="2.1"/><path d="M903.17 1194.53L915.04 1204.98A76.35 76.35 0 0 0 915.04 1149.02L903.17 1159.47" fill="none" stroke-width="0.9"/><path d="M916.76 1209.40L910.53 1201.22A70.8 70.8 0 0 0 914.53 1170.83L921.91 1160.44" stroke-width="1"/><path d="M925.92 1186.33A82.45 82.45 0 0 0 925.92 1167.67" stroke-width="5.2" stroke-linecap="round"/><path d="M925.92 1186.33A82.45 82.45 0 0 0 925.92 1167.67" stroke="#f7f7f7" stroke-width="2" stroke-linecap="round"/><path d="M888.08 1138.68L908.44 1130.18A79.65 79.65 0 0 0 852.33 1097.79L855.15 1119.66A58.410000000000004 58.410000000000004 0 0 1 888.08 1138.68Z" stroke-width="2.1"/><path d="M888.76 1134.52L903.75 1129.47A76.35 76.35 0 0 0 855.29 1101.49L858.41 1117.00" fill="none" stroke-width="0.9"/><path d="M908.44 1130.18L898.24 1131.49A70.8 70.8 0 0 0 873.92 1112.83L868.61 1101.25" stroke-width="1"/><path d="M893.04 1110.72A82.45 82.45 0 0 0 876.88 1101.39" stroke-width="5.2" stroke-linecap="round"/><path d="M893.04 1110.72A82.45 82.45 0 0 0 876.88 1101.39" stroke="#f7f7f7" stroke-width="2" stroke-linecap="round"/><path d="M832.85 1119.66L835.67 1097.79A79.65 79.65 0 0 0 779.56 1130.18L799.92 1138.68A58.410000000000004 58.410000000000004 0 0 1 832.85 1119.66Z" stroke-width="2.1"/><path d="M829.59 1117.00L832.71 1101.49A76.35 76.35 0 0 0 784.25 1129.47L799.24 1134.52" fill="none" stroke-width="0.9"/><path d="M835.67 1097.79L831.71 1107.28A70.8 70.8 0 0 0 803.39 1119.00L790.70 1117.81" stroke-width="1"/><path d="M811.12 1101.39A82.45 82.45 0 0 0 794.96 1110.72" stroke-width="5.2" stroke-linecap="round"/><path d="M811.12 1101.39A82.45 82.45 0 0 0 794.96 1110.72" stroke="#f7f7f7" stroke-width="2" stroke-linecap="round"/>
</g>
<g transform="translate(876.4 1137.3) rotate(90) scale(1.095 1.1)"><rect x="0" y="0" width="71.4" height="51.1" fill="#f7f7f7" stroke="#1a1a1a" stroke-width="1.6"/><rect x="3.1" y="2.6" width="65.2" height="45.8" fill="none" stroke="#1a1a1a" stroke-width="1.1"/><path d="M4.2 7.5L8.5 4.2H34.5V10.8H8.5Z" fill="#1a1a1a"/><path d="M34.5 4.6H63" stroke="#1a1a1a" stroke-width="0.9" fill="none"/><path d="M62.6 4.2L67.2 7.5L62.6 10.8Z" fill="#1a1a1a"/><path d="M12 5.5V9.5M15 5.5V9.5M18 5.5V9.5M21 5.5V9.5M24 5.5V9.5M27 5.5V9.5M30 5.5V9.5" stroke="#777" stroke-width="0.6"/><g fill="#2a2a2a" stroke="#1a1a1a" stroke-width="0.35" stroke-linejoin="miter"><path d="M14.75 17.80L12.37 20.00L12.08 23.60L14.20 24.70Z"/><path d="M14.12 25.60L11.84 26.70L11.55 30.30L13.57 32.50Z"/><path d="M21.82 16.90L28.62 16.90L26.24 19.10L23.84 19.10Z"/><path d="M29.45 17.80L27.07 20.00L26.78 23.60L28.90 24.70Z"/><path d="M22.26 25.15L23.45 24.05L25.85 24.05L26.86 25.15L25.67 26.25L23.27 26.25Z"/><path d="M20.22 25.60L22.34 26.70L22.05 30.30L19.67 32.50Z"/><path d="M22.88 31.20L25.28 31.20L27.30 33.40L20.50 33.40Z"/><path d="M29.48 31.20L31.68 31.20L31.50 33.40L29.30 33.40Z"/><path d="M33.92 16.90L40.72 16.90L38.34 19.10L35.94 19.10Z"/><path d="M41.55 17.80L39.17 20.00L38.88 23.60L41.00 24.70Z"/><path d="M40.92 25.60L38.64 26.70L38.35 30.30L40.37 32.50Z"/><path d="M34.98 31.20L37.38 31.20L39.40 33.40L32.60 33.40Z"/><path d="M32.32 25.60L34.44 26.70L34.15 30.30L31.77 32.50Z"/><path d="M32.95 17.80L34.97 20.00L34.68 23.60L32.40 24.70Z"/><path d="M45.22 16.90L52.02 16.90L49.64 19.10L47.24 19.10Z"/><path d="M52.85 17.80L50.47 20.00L50.18 23.60L52.30 24.70Z"/><path d="M52.22 25.60L49.94 26.70L49.65 30.30L51.67 32.50Z"/><path d="M46.28 31.20L48.68 31.20L50.70 33.40L43.90 33.40Z"/><path d="M43.62 25.60L45.74 26.70L45.45 30.30L43.07 32.50Z"/><path d="M44.25 17.80L46.27 20.00L45.98 23.60L43.70 24.70Z"/><path d="M56.52 16.90L63.32 16.90L60.94 19.10L58.54 19.10Z"/><path d="M64.15 17.80L61.77 20.00L61.48 23.60L63.60 24.70Z"/><path d="M63.52 25.60L61.24 26.70L60.95 30.30L62.97 32.50Z"/><path d="M57.58 31.20L59.98 31.20L62.00 33.40L55.20 33.40Z"/><path d="M54.92 25.60L57.04 26.70L56.75 30.30L54.37 32.50Z"/><path d="M55.55 17.80L57.57 20.00L57.28 23.60L55.00 24.70Z"/><path d="M56.96 25.15L58.15 24.05L60.55 24.05L61.56 25.15L60.37 26.25L57.97 26.25Z"/></g><text x="53" y="46.1" font-family="Liberation Sans" font-size="9" font-weight="bold" fill="#1a1a1a" textLength="12.2" lengthAdjust="spacingAndGlyphs">mA</text></g>
<g fill="none" stroke="#1a1a1a" stroke-width="1">
<path d="M760.2 1246.7A14.2 14.2 0 1 1 783.4 1246.7" stroke-width="1.8" fill="#f7f7f7"/>
<path d="M765.1 1246.7A10.6 10.6 0 1 1 778.5 1246.7" stroke-width="1.7"/>
<circle cx="771.8" cy="1238.5" r="6.8" stroke-width="1.1"/><circle cx="771.8" cy="1238.5" r="4.76" stroke-width="0.9"/><path d="M768.74 1238.5H774.86M771.8 1235.44V1241.56" stroke-width="1.3"/>
<path d="M748.6 1246.7H793M765 1248.6H790" stroke-width="1"/>
</g>
<rect x="608.5" y="1094" width="16" height="45" rx="8" fill="none" stroke="#1a1a1a" stroke-width="1.6"/>
<text x="0" y="0" font-family="Liberation Sans" font-size="12" font-weight="bold" fill="#1a1a1a" textLength="38" lengthAdjust="spacingAndGlyphs" transform="translate(612 1097.5) rotate(90)">CF-8M</text>
<rect x="563.8" y="1213" width="16" height="45" rx="8" fill="none" stroke="#1a1a1a" stroke-width="1.6"/>
<text x="0" y="0" font-family="Liberation Sans" font-size="12" font-weight="bold" fill="#1a1a1a" textLength="38" lengthAdjust="spacingAndGlyphs" transform="translate(576.5 1254.5) rotate(-90)">CF-8M</text>
<g fill="none" stroke="#231815" stroke-width="1.6" stroke-linejoin="round">
<path d="M525.6 1294V1280.8H656Q661.5 1280.8 661.4 1286Q660 1297 645 1301Q625 1304 579.7 1305Q558 1306 554.2 1317.3Q550 1326 547.9 1330Q530 1350 532 1378Q533 1405 552 1427.6Q557 1436 555.3 1440Q550 1452 530 1454.7H514.2V1297.5" stroke-width="2"/>
<path d="M525.6 1294Q525.6 1297.5 520 1297.5H514.2" stroke-width="1.6"/>
<path d="M550 1326.8Q560 1321 576.5 1323.8Q631.7 1330 631.7 1378.8Q631.7 1425 576.5 1433Q560 1434 552 1427.6"/>
</g>
<g fill="none" stroke="#231815" stroke-width="1.9" stroke-linejoin="round">
<path d="M491 1276.5H512Q519.5 1276.5 519.5 1284V1297.5M491 1276.5Q488 1276.5 488 1280Q488 1283.7 491 1283.7H510.5Q513.6 1283.7 513.6 1287V1297.5"/>
<path d="M491 1473.9H512Q519.5 1473.9 519.5 1466V1455M491 1473.9Q488 1473.9 488 1470Q488 1466 491 1466H510.5Q513.6 1466 513.6 1463V1455"/>
<path d="M497.8 1322.4H505V1333.6H497.8ZM512.3 1318.5H508Q505 1318.5 505 1322V1334.5Q505 1338.2 508 1338.2H512.3"/>
<path d="M497.8 1422H505V1433.2H497.8ZM512.3 1418H508Q505 1418 505 1421.5V1434Q505 1437.7 508 1437.7H512.3"/>
</g>
<path d="M553.5 1283.5V1289Q553.5 1293 559.5 1293Q565.5 1293 565.5 1289V1283.5" fill="none" stroke="#231815" stroke-width="1.2" stroke-dasharray="3 2"/>
<path d="M565.5 1283.5V1289Q565.5 1293 571.5 1293Q577.5 1293 577.5 1289V1283.5" fill="none" stroke="#231815" stroke-width="1.2" stroke-dasharray="3 2"/>
<path d="M608.5 1283.5V1289Q608.5 1293 614.5 1293Q620.5 1293 620.5 1289V1283.5" fill="none" stroke="#231815" stroke-width="1.2" stroke-dasharray="3 2"/>
<path d="M620.5 1283.5V1289Q620.5 1293 626.5 1293Q632.5 1293 632.5 1289V1283.5" fill="none" stroke="#231815" stroke-width="1.2" stroke-dasharray="3 2"/>
<defs><clipPath id="ring"><path d="M531.5 1378.8a45 45 0 1 0 90 0a45 45 0 1 0 -90 0ZM542 1378.8a34.5 34.5 0 1 1 69 0a34.5 34.5 0 1 1 -69 0Z" clip-rule="evenodd"/></clipPath></defs>
<g clip-path="url(#ring)"><path d="M470 1330L530 1430M479 1330L539 1430M488 1330L548 1430M497 1330L557 1430M506 1330L566 1430M515 1330L575 1430M524 1330L584 1430M533 1330L593 1430M542 1330L602 1430M551 1330L611 1430M560 1330L620 1430M569 1330L629 1430M578 1330L638 1430M587 1330L647 1430M596 1330L656 1430M605 1330L665 1430M614 1330L674 1430M623 1330L683 1430M632 1330L692 1430" stroke="#231815" stroke-width="1.3" fill="none"/></g>
<g fill="none" stroke="#231815" stroke-width="1.6">
<circle cx="576.5" cy="1378.8" r="45"/>
<circle cx="576.5" cy="1378.8" r="34.5"/>
</g>
<path d="M576.5 1364V1410.6M561.7 1377.7H584" stroke="#231815" stroke-width="1.2" fill="none"/>
<path d="M586 1377.7H605.2" stroke="#231815" stroke-width="1.2" fill="none" stroke-dasharray="5 3"/>
<circle cx="594.6" cy="1392.6" r="5.8" fill="#231815"/>
<g fill="none" stroke="#231815" stroke-width="1.3">
<path d="M675.2 1276V1548.8"/>
<path d="M577.3 1456.4V1489.7" stroke-width="1.6"/>
<path d="M577.3 1467H601.5M650 1467H674"/>
<path d="M462 1533.6H527.3M595.5 1533.6H674"/>
<path d="M576.5 1436V1452" stroke-dasharray="6 4"/>
</g>
<g fill="#231815">
<path d="M578 1467L592 1462V1472ZM674.5 1467L660.5 1462V1472ZM462.5 1533.6L476.5 1528.6V1538.6ZM674.5 1533.6L660.5 1528.6V1538.6Z"/>
</g>
<text id="d1" x="585.5" y="1490.3" font-family="Liberation Serif" font-size="18" fill="#231815" textLength="74" lengthAdjust="spacing">2- 5/8″</text>
<text id="d2" x="597.5" y="1506.5" font-family="Liberation Serif" font-size="17.5" fill="#231815" textLength="62" lengthAdjust="spacing">(66.7)</text>
<text id="d3" x="529.5" y="1532" font-family="Liberation Serif" font-size="18" fill="#231815" textLength="70" lengthAdjust="spacing">5-5/8″</text>
<text id="d4" x="521.7" y="1549" font-family="Liberation Serif" font-size="17.5" fill="#231815" textLength="78" lengthAdjust="spacing">(142.9)</text>
<path d="M462 1411.5V1572" fill="none" stroke="#231815" stroke-width="3" stroke-dasharray="12 14 36 14"/>
<g fill="none" stroke="#231815" stroke-width="2.2" stroke-dasharray="9.5 9.3">
<path d="M417.7 1248V1489"/>
<path d="M505.7 1248V1489"/>
</g>
<g fill="none" stroke="#231815" stroke-width="2.6" stroke-dasharray="10 7">
<path d="M417.7 1241.7Q419 1234 431.5 1233.1Q446 1233 455 1239.7Q448 1249 439.4 1249.5Q424 1253 417.7 1241.7"/>
<path d="M455 1239.7Q465 1233 473.5 1231.8Q490.6 1227 502.4 1233.1Q505.7 1236 505.7 1241"/>
<path d="M417.7 1489Q418.4 1498 425 1506Q432.8 1511.3 443.3 1508Q452 1503 461.7 1496.9"/>
<path d="M461.7 1496.9Q470 1490 480 1490.3Q498 1492 505 1500Q507 1504.8 500 1509Q491.9 1510 473.5 1506Q466 1502 461.7 1496.9"/>
</g>
<g fill="none" stroke="#231815" stroke-width="2" stroke-dasharray="9 6">
<path d="M413 1374.3H505.7M413 1384.2H514"/>
</g>
<path d="M409.5 1371V1387M505.7 1374.3V1384.2H514.2" fill="none" stroke="#231815" stroke-width="1.8"/>
</svg>
</body></html>
